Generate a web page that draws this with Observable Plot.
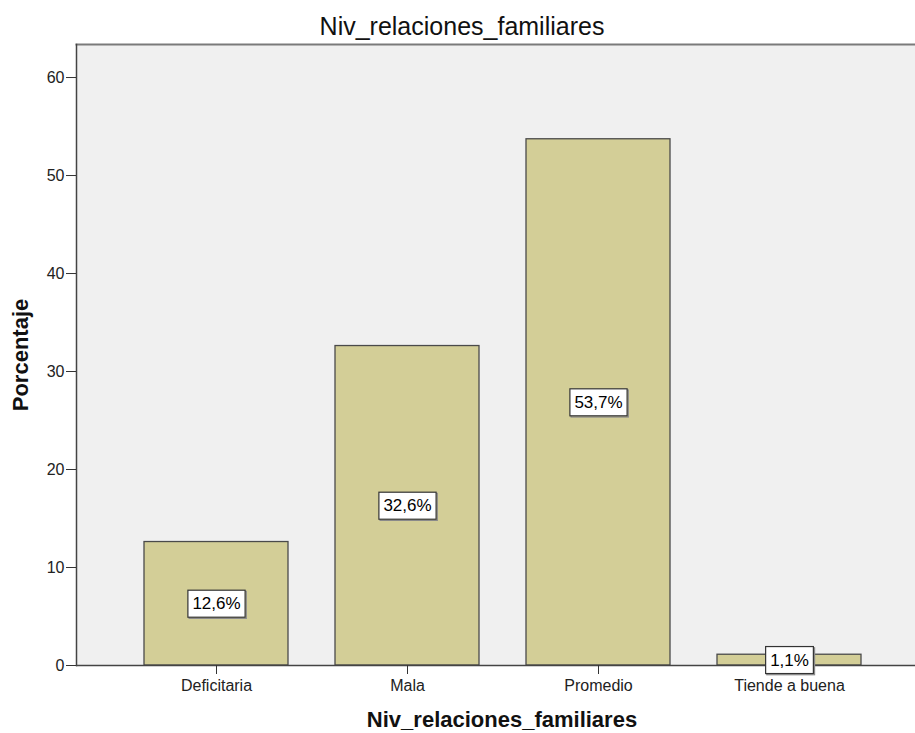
<!DOCTYPE html>
<html>
<head>
<meta charset="utf-8">
<script src="https://cdn.jsdelivr.net/npm/d3@7"></script>
<script src="https://cdn.jsdelivr.net/npm/@observablehq/plot@0.6"></script>
<style>
  html, body { margin: 0; padding: 0; background: #ffffff; }
  #chart svg { display: block; }
</style>
</head>
<body>
<div id="chart"></div>
<script>
const categories = ["Deficitaria", "Mala", "Promedio", "Tiende a buena"];
const percentages = [12.6, 32.6, 53.7, 1.1];
const yTicks = [0, 10, 20, 30, 40, 50, 60];
const yMax = 63.37;
const chartTitle = "Niv_relaciones_familiares";
const xTitle = "Niv_relaciones_familiares";
const yTitle = "Porcentaje";

const data = categories.map((c, i) => ({cat: c, pct: percentages[i]}));
const fmt = v => d3.format(".1f")(v).replace(".", ",") + "%";

const chart = Plot.plot({
  width: 915,
  height: 733,
  marginTop: 44,
  marginLeft: 76,
  marginRight: 0,
  marginBottom: 68,
  style: {fontFamily: "'Liberation Sans', Arial, sans-serif", background: "#ffffff", color: "#222"},
  x: {domain: categories, paddingInner: 0.248, paddingOuter: 0.3146, align: 0.556},
  y: {domain: [0, yMax]},
  marks: [
    Plot.frame({fill: "#f0f0f0", stroke: null}),
    Plot.frame({anchor: "top", stroke: "#7a7a7a", strokeWidth: 2}),
    Plot.barY(data, {x: "cat", y: "pct", fill: "#d3ce97", stroke: "#4a4a4a", strokeWidth: 1.3}),
    Plot.ruleY([0], {stroke: "#444", strokeWidth: 1.5}),
    Plot.frame({anchor: "left", stroke: "#444", strokeWidth: 1.5}),
    Plot.axisY({ticks: yTicks, tickSize: 10, tickPadding: 2, fontSize: 16, label: null, stroke: "#333", fill: "#222", tickFormat: d => String(d)}),
    Plot.axisX({tickSize: 9, tickPadding: 5, fontSize: 16, label: null, stroke: "#333", fill: "#222"}),
    Plot.text(data, {x: "cat", y: d => d.pct / 2, text: d => fmt(d.pct), fontSize: 17, fill: "#000", ariaDescription: "value-labels"}),
    Plot.text([chartTitle], {frameAnchor: "top", lineAnchor: "middle", textAnchor: "middle", dx: -34, dy: -18, fontSize: 25, fill: "#111"}),
    Plot.text([xTitle], {frameAnchor: "bottom", lineAnchor: "middle", textAnchor: "middle", dx: 6, dy: 54, fontSize: 22, fontWeight: "bold", fill: "#111"}),
    Plot.text([yTitle], {frameAnchor: "left", lineAnchor: "middle", textAnchor: "middle", dx: -56, rotate: -90, fontSize: 22, fontWeight: "bold", fill: "#111"})
  ]
});

document.getElementById("chart").appendChild(chart);

// white boxes behind value labels
const group = chart.querySelector('g[aria-description="value-labels"]');
if (group) {
  group.querySelectorAll("text").forEach(t => {
    const b = t.getBBox();
    const w = b.width + 9, h = 27;
    const cx = b.x + b.width / 2, cy = b.y + b.height / 2;
    const ns = "http://www.w3.org/2000/svg";
    const shadow = document.createElementNS(ns, "rect");
    shadow.setAttribute("x", cx - w / 2 + 1.2);
    shadow.setAttribute("y", cy - h / 2 + 1.2);
    shadow.setAttribute("width", w);
    shadow.setAttribute("height", h);
    shadow.setAttribute("fill", "none");
    shadow.setAttribute("stroke", "#8a8a8a");
    shadow.setAttribute("stroke-width", 1.2);
    const r = document.createElementNS(ns, "rect");
    r.setAttribute("x", cx - w / 2);
    r.setAttribute("y", cy - h / 2);
    r.setAttribute("width", w);
    r.setAttribute("height", h);
    r.setAttribute("fill", "#ffffff");
    r.setAttribute("stroke", "#333");
    r.setAttribute("stroke-width", 1.2);
    if (t.getAttribute("transform")) {
      shadow.setAttribute("transform", t.getAttribute("transform"));
      r.setAttribute("transform", t.getAttribute("transform"));
    }
    t.parentNode.insertBefore(shadow, t);
    t.parentNode.insertBefore(r, t);
  });
}
</script>
</body>
</html>
